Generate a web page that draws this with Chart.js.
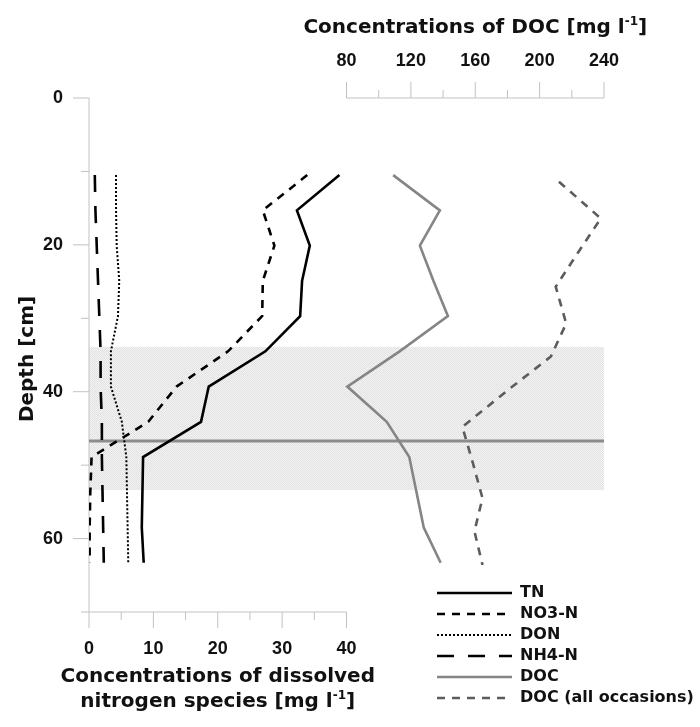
<!DOCTYPE html>
<html>
<head>
<meta charset="utf-8">
<script src="https://cdn.jsdelivr.net/npm/chart.js@4"></script>
<style>
  html, body { margin: 0; padding: 0; background: #fff; }
  canvas { display: block; }
</style>
</head>
<body>
<canvas id="perfilChart" width="700" height="727"></canvas>
<script>
// profundidades de muestreo [cm]
const depths    = [10.5, 15.3, 20.1, 24.9, 29.7, 34.5, 39.3, 44.1, 48.9, 53.7, 58.5, 63.3];
const depthsAll = [11.4, 16.4, 21.0, 25.7, 30.7, 35.2, 40.0, 44.8, 49.7, 54.5, 59.0, 63.6];

// nitrógeno disuelto [mg l-1]
const tn  = [38.9, 32.3, 34.3, 33.1, 32.8, 27.4, 18.6, 17.4, 8.4, 8.3, 8.2, 8.5];
const no3 = [33.9, 27.0, 28.8, 27.0, 26.9, 21.6, 13.6, 9.2, 0.4, 0.2, 0.1, 0.1];
const don = [4.2, 4.2, 4.3, 4.7, 4.5, 3.4, 3.4, 5.1, 5.8, 5.9, 6.0, 6.1];
const nh4 = [0.9, 1.0, 1.2, 1.4, 1.6, 1.8, 1.8, 2.0, 2.0, 2.1, 2.2, 2.3];

// carbono orgánico disuelto [mg l-1]
const doc    = [109, 138, 125.6, 134, 143, 113, 80.5, 105, 119, 123.5, 128, 138.5];
const docAll = [212, 238, 224, 210, 216.5, 207, 179, 152, 158.5, 164.5, 159.5, 164.5];

// capa sombreada y nivel marcado [cm]
const bandaDesde = 33.9;
const bandaHasta = 53.4;
const nivelLinea = 46.7;

const puntos = (vals, prof) => vals.map((v, i) => ({ x: v, y: prof[i] }));

const fTicks  = { family: 'Liberation Sans', weight: 'bold', size: 18 };
const fTitulo = 'bold 20px "DejaVu Sans"';
const fSup    = 'bold 12px "DejaVu Sans"';
const fLeyenda = 'bold 16px "DejaVu Sans"';
const colorEje = '#c2c2c2';

// textura punteada de la banda
function patronBanda(ctx) {
  const c = document.createElement('canvas');
  c.width = 2; c.height = 2;
  const p = c.getContext('2d');
  p.fillStyle = '#f3f3f3';
  p.fillRect(0, 0, 2, 2);
  p.fillStyle = '#e2e2e2';
  p.fillRect(0, 0, 1, 1);
  p.fillRect(1, 1, 1, 1);
  return ctx.createPattern(c, 'repeat');
}

// texto con superíndice, centrado en (cx, cy)
function textoSup(ctx, partes, cx, cy) {
  const anchos = partes.map(([t, sup]) => { ctx.font = sup ? fSup : fTitulo; return ctx.measureText(t).width; });
  let x = cx - anchos.reduce((a, b) => a + b, 0) / 2;
  ctx.textAlign = 'left';
  ctx.textBaseline = 'middle';
  partes.forEach(([t, sup], i) => {
    ctx.font = sup ? fSup : fTitulo;
    ctx.fillText(t, x, sup ? cy - 6 : cy);
    x += anchos[i];
  });
}

function marcas(ctx, scale, lado, esMayor) {
  scale.ticks.forEach(t => {
    const p = scale.getPixelForValue(t.value);
    const l = esMayor(t.value) ? 16 : 8;
    ctx.beginPath();
    if (lado === 'left') { ctx.moveTo(scale.right, p); ctx.lineTo(scale.right - l, p); }
    if (lado === 'bottom') { ctx.moveTo(p, scale.top); ctx.lineTo(p, scale.top + l); }
    if (lado === 'top') { ctx.moveTo(p, scale.bottom); ctx.lineTo(p, scale.bottom - l); }
    ctx.stroke();
  });
}

const ejesPlugin = {
  id: 'ejes',
  beforeDatasetsDraw(chart) {
    const { ctx, chartArea: ca, scales: { x, x2, y } } = chart;
    ctx.save();
    // banda sombreada
    const yA = y.getPixelForValue(bandaDesde), yB = y.getPixelForValue(bandaHasta);
    ctx.fillStyle = patronBanda(ctx);
    ctx.fillRect(ca.left, yA, ca.right - ca.left, yB - yA);

    // ejes
    ctx.strokeStyle = colorEje;
    ctx.lineWidth = 1;
    ctx.beginPath();
    ctx.moveTo(ca.left, ca.top); ctx.lineTo(ca.left, ca.bottom);
    ctx.moveTo(ca.left, ca.bottom); ctx.lineTo(x.getPixelForValue(40), ca.bottom);
    ctx.moveTo(x2.getPixelForValue(80), ca.top); ctx.lineTo(x2.getPixelForValue(240), ca.top);
    ctx.stroke();
    marcas(ctx, y, 'left', v => v % 20 === 0);
    marcas(ctx, x, 'bottom', v => v % 10 === 0);
    marcas(ctx, x2, 'top', v => v % 40 === 0);

    // nivel marcado
    const yl = y.getPixelForValue(nivelLinea);
    ctx.strokeStyle = '#8c8c8c';
    ctx.lineWidth = 3;
    ctx.beginPath();
    ctx.moveTo(ca.left, yl); ctx.lineTo(ca.right, yl);
    ctx.stroke();
    ctx.restore();
  },
  afterDraw(chart) {
    const { ctx, chartArea: ca, scales: { x, x2, y } } = chart;
    ctx.save();
    ctx.fillStyle = '#111';

    // títulos de ejes
    textoSup(ctx, [['Concentrations of DOC [mg l', false], ['-1', true], [']', false]],
      x2.getPixelForValue(160), 28);
    ctx.font = fTitulo;
    ctx.textAlign = 'center';
    ctx.textBaseline = 'middle';
    ctx.fillText('Concentrations of dissolved', x.getPixelForValue(20), 677);
    textoSup(ctx, [['nitrogen species [mg l', false], ['-1', true], [']', false]],
      x.getPixelForValue(20), 702);

    ctx.save();
    ctx.translate(28, (ca.top + ca.bottom) / 2 + 4);
    ctx.rotate(-Math.PI / 2);
    ctx.font = fTitulo;
    ctx.textAlign = 'center';
    ctx.fillText('Depth [cm]', 0, 0);
    ctx.restore();

    // leyenda
    chart.data.datasets.forEach((ds, i) => {
      const yy = 593 + i * 21;
      ctx.save();
      ctx.strokeStyle = ds.borderColor;
      ctx.lineWidth = ds.borderWidth;
      ctx.setLineDash(ds.borderDash || []);
      ctx.beginPath();
      ctx.moveTo(437, yy); ctx.lineTo(512, yy);
      ctx.stroke();
      ctx.restore();
      ctx.font = fLeyenda;
      ctx.textAlign = 'left';
      ctx.fillText(ds.label, 520, yy);
    });
    ctx.restore();
  }
};

const ejeBase = {
  type: 'linear',
  grid: { display: false, drawTicks: false },
  border: { display: false },
  ticks: { autoSkip: false, maxRotation: 0, padding: 26, color: '#111', font: fTicks }
};

new Chart(document.getElementById('perfilChart').getContext('2d'), {
  type: 'scatter',
  data: {
    datasets: [
      { label: 'TN', data: puntos(tn, depths), borderColor: '#000', borderWidth: 2.6 },
      { label: 'NO3-N', data: puntos(no3, depths), borderColor: '#000', borderWidth: 2.6, borderDash: [8, 7] },
      { label: 'DON', data: puntos(don, depths), borderColor: '#000', borderWidth: 2, borderDash: [2, 2] },
      { label: 'NH4-N', data: puntos(nh4, depths), borderColor: '#000', borderWidth: 2.6, borderDash: [17, 14] },
      { label: 'DOC', data: puntos(doc, depths), borderColor: '#858585', borderWidth: 2.6, xAxisID: 'x2' },
      { label: 'DOC (all occasions)', data: puntos(docAll, depthsAll), borderColor: '#5c5c5c', borderWidth: 2.6, borderDash: [8, 7], xAxisID: 'x2' }
    ].map(ds => Object.assign({ showLine: true, pointRadius: 0, tension: 0, fill: false, borderCapStyle: 'butt' }, ds))
  },
  options: {
    responsive: false,
    animation: false,
    devicePixelRatio: 1,
    layout: { padding: { left: 0, right: 96, top: 0, bottom: 0 } },
    plugins: { legend: { display: false }, tooltip: { enabled: false } },
    scales: {
      x: Object.assign({}, ejeBase, {
        position: 'bottom', min: 0, max: 80,
        ticks: Object.assign({}, ejeBase.ticks, { stepSize: 5, callback: v => v % 10 === 0 ? v : '' }),
        afterBuildTicks: s => { s.ticks = s.ticks.filter(t => t.value <= 40); },
        afterFit: s => { s.height = 115; }
      }),
      x2: Object.assign({}, ejeBase, {
        position: 'top', min: -80, max: 240,
        ticks: Object.assign({}, ejeBase.ticks, { stepSize: 20, callback: v => v % 40 === 0 ? v : '' }),
        afterBuildTicks: s => { s.ticks = s.ticks.filter(t => t.value >= 80); },
        afterFit: s => { s.height = 98; }
      }),
      y: Object.assign({}, ejeBase, {
        position: 'left', min: 0, max: 70, reverse: true,
        ticks: Object.assign({}, ejeBase.ticks, { stepSize: 10, callback: v => v % 20 === 0 ? v : '' }),
        afterFit: s => { s.width = 89; }
      })
    }
  },
  plugins: [ejesPlugin]
});
</script>
</body>
</html>
